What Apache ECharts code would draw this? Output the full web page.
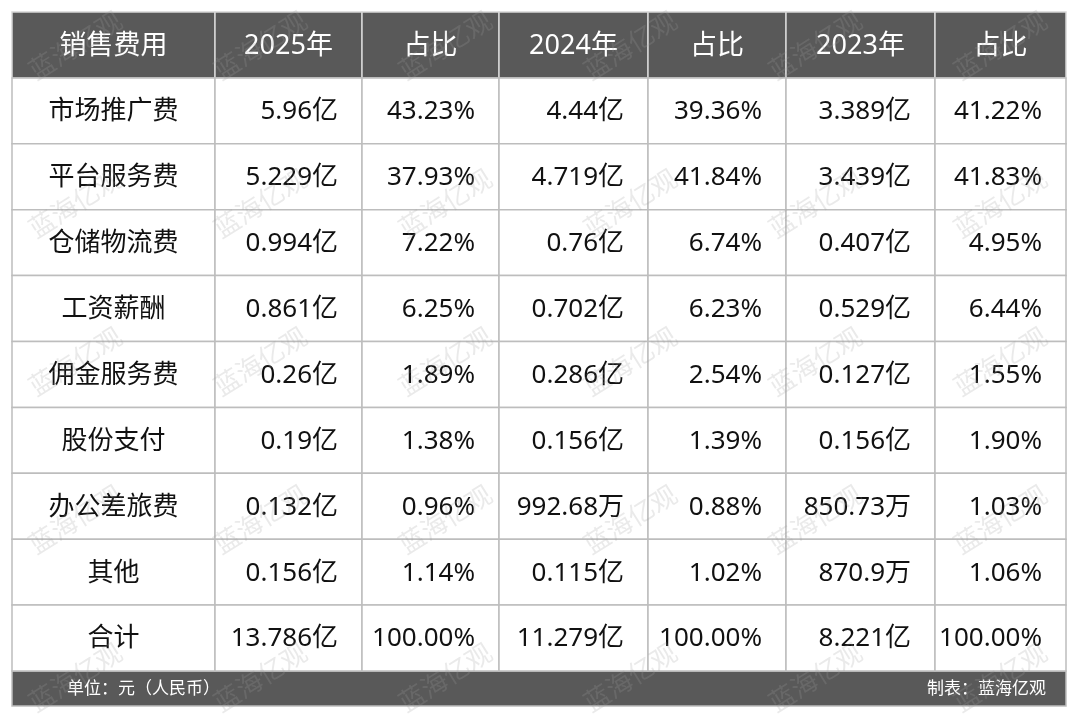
<!DOCTYPE html>
<html>
<head>
<meta charset="utf-8">
<title>销售费用</title>
<script src="https://cdn.jsdelivr.net/npm/echarts@6/dist/echarts.min.js"></script>
<style>
  html, body { margin: 0; padding: 0; background: #fff; }
  #main { width: 1080px; height: 720px; }
</style>
</head>
<body>
<div id="main"></div>
<script>
// 表格数据
const headers = ['销售费用', '2025年', '占比', '2024年', '占比', '2023年', '占比'];
const items = ['市场推广费', '平台服务费', '仓储物流费', '工资薪酬', '佣金服务费', '股份支付', '办公差旅费', '其他', '合计'];
const amt2025 = ['5.96亿', '5.229亿', '0.994亿', '0.861亿', '0.26亿', '0.19亿', '0.132亿', '0.156亿', '13.786亿'];
const pct2025 = ['43.23%', '37.93%', '7.22%', '6.25%', '1.89%', '1.38%', '0.96%', '1.14%', '100.00%'];
const amt2024 = ['4.44亿', '4.719亿', '0.76亿', '0.702亿', '0.286亿', '0.156亿', '992.68万', '0.115亿', '11.279亿'];
const pct2024 = ['39.36%', '41.84%', '6.74%', '6.23%', '2.54%', '1.39%', '0.88%', '1.02%', '100.00%'];
const amt2023 = ['3.389亿', '3.439亿', '0.407亿', '0.529亿', '0.127亿', '0.156亿', '850.73万', '870.9万', '8.221亿'];
const pct2023 = ['41.22%', '41.83%', '4.95%', '6.44%', '1.55%', '1.90%', '1.03%', '1.06%', '100.00%'];
const unitText = '单位：元（人民币）';
const sourceText = '制表：蓝海亿观';
const watermark = '蓝海亿观';

// 列宽（布局）
const colWidths = [203, 147, 137, 149, 138, 149, 131];
const colEdges = [0];
colWidths.forEach(function (w, i) { colEdges.push(colEdges[i] + w); });
const tableW = colEdges[colEdges.length - 1];

const FONT = "'Noto Sans', 'Noto Sans CJK SC', sans-serif";
const HEAD_BG = '#595959';
const LINE = '#bdbdbd';

const rowKeys = ['表头'].concat(items);
const columns = [items, amt2025, pct2025, amt2024, pct2024, amt2023, pct2023];

// 单元格
const cells = [];
headers.forEach(function (h, c) {
  cells.push({ value: [c, 0], text: h, head: true });
});
columns.forEach(function (col, c) {
  col.forEach(function (t, r) {
    cells.push({ value: [c, r + 1], text: t, head: false });
  });
});

const chart = echarts.init(document.getElementById('main'));

// 水印
const marks = [];
for (let r = 0; r < 5; r++) {
  for (let c = 0; c < 6; c++) {
    marks.push({
      type: 'text',
      x: 75 + c * 185,
      y: 45 + r * 158,
      rotation: Math.PI * 32 / 180,
      z: 100,
      silent: true,
      style: {
        text: watermark,
        font: "26px 'Noto Sans CJK SC'",
        fill: 'rgba(160,160,160,0.22)',
        align: 'center',
        verticalAlign: 'middle'
      }
    });
  }
}

const option = {
  backgroundColor: '#fff',
  animation: false,
  grid: { left: 12, top: 12, width: tableW, height: 659 },
  xAxis: { type: 'value', min: 0, max: tableW, show: false },
  yAxis: { type: 'category', data: rowKeys, inverse: true, show: false },
  series: [{
    type: 'custom',
    data: cells,
    renderItem: function (params, api) {
      const cell = cells[params.dataIndex];
      const c = api.value(0);
      const r = api.value(1);
      const p0 = api.coord([colEdges[c], r]);
      const p1 = api.coord([colEdges[c + 1], r]);
      const h = api.size([0, 1])[1];
      const top = p0[1] - h / 2;
      const w = p1[0] - p0[0];
      const centered = cell.head || c === 0;
      return {
        type: 'group',
        children: [{
          type: 'rect',
          shape: { x: p0[0], y: top, width: w, height: h },
          style: {
            fill: cell.head ? HEAD_BG : '#fff',
            stroke: cell.head ? '#d6d6d6' : LINE,
            lineWidth: 1.5
          }
        }, {
          type: 'text',
          style: {
            text: cell.text,
            x: centered ? p0[0] + w / 2 : p1[0] - 24,
            y: p0[1] + 1,
            align: centered ? 'center' : 'right',
            verticalAlign: 'middle',
            fontSize: cell.head ? 27 : 26,
            fontFamily: FONT,
            fill: cell.head ? '#fff' : '#111'
          }
        }]
      };
    }
  }],
  graphic: [{
    type: 'rect',
    shape: { x: 12, y: 671, width: tableW, height: 35 },
    style: { fill: HEAD_BG, stroke: LINE, lineWidth: 1.5 }
  }, {
    type: 'text',
    x: 67,
    y: 689,
    style: {
      text: unitText, fontSize: 17, fontFamily: FONT, fill: '#fff',
      align: 'left', verticalAlign: 'middle'
    }
  }, {
    type: 'text',
    x: 1046,
    y: 689,
    style: {
      text: sourceText, fontSize: 17, fontFamily: FONT, fill: '#fff',
      align: 'right', verticalAlign: 'middle'
    }
  }].concat(marks)
};

chart.setOption(option);
</script>
</body>
</html>
